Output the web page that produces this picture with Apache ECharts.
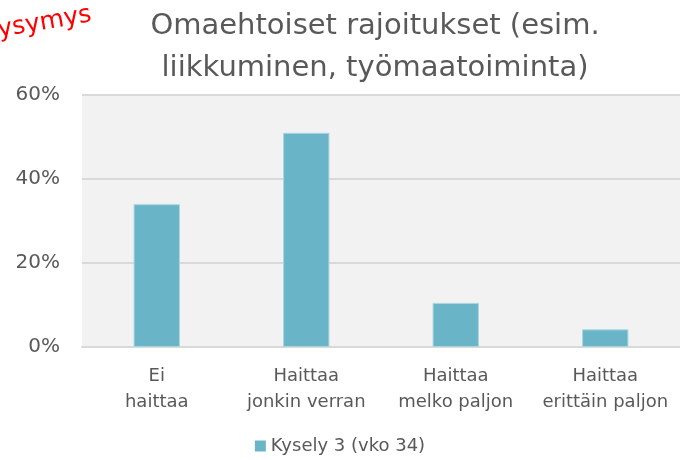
<!DOCTYPE html>
<html>
<head>
<meta charset="utf-8">
<script src="https://cdn.jsdelivr.net/npm/echarts@6/dist/echarts.min.js"></script>
<style>
  html, body { margin: 0; padding: 0; background: #fff; }
  #chart { width: 680px; height: 460px; }
</style>
</head>
<body>
<div id="chart"></div>
<script>
const categories = ['Ei\nhaittaa', 'Haittaa\njonkin verran', 'Haittaa\nmelko paljon', 'Haittaa\nerittäin paljon']
const seriesName = 'Kysely 3 (vko 34)'
const values = [34, 51, 10.5, 4.2]
const yTicks = [0, 20, 40, 60]

const font = '"DejaVu Sans", sans-serif'
const chart = echarts.init(document.getElementById('chart'))

chart.setOption({
  animation: false,
  title: {
    text: 'Omaehtoiset rajoitukset (esim.\nliikkuminen, työmaatoiminta)',
    left: 370,
    textAlign: 'center',
    top: 0,
    textStyle: {
      color: '#595959',
      fontFamily: font,
      fontSize: 29,
      fontWeight: 'normal',
      lineHeight: 42
    }
  },
  graphic: [
    {
      type: 'text',
      x: 0,
      y: 43,
      rotation: 0.17,
      style: {
        text: 'ysymys',
        fill: '#ff0000',
        font: '25px ' + font,
        textVerticalAlign: 'bottom'
      }
    }
  ],
  legend: {
    bottom: 0,
    left: 'center',
    itemWidth: 11,
    itemHeight: 11,
    itemGap: 6,
    itemStyle: { borderWidth: 0 },
    textStyle: { color: '#595959', fontFamily: font, fontSize: 18 },
    data: [{ name: seriesName, icon: 'rect' }]
  },
  grid: {
    left: 82,
    right: -4,
    top: 95,
    bottom: 113,
    show: true,
    backgroundColor: '#f2f2f2',
    borderWidth: 0
  },
  xAxis: {
    type: 'category',
    data: categories,
    axisLine: { lineStyle: { color: '#d9d9d9', width: 2 } },
    axisTick: { show: false },
    axisLabel: {
      interval: 0,
      color: '#595959',
      fontFamily: font,
      fontSize: 18,
      lineHeight: 26,
      margin: 16
    }
  },
  yAxis: {
    type: 'value',
    min: yTicks[0],
    max: yTicks[yTicks.length - 1],
    interval: 20,
    axisLine: { show: false },
    axisTick: { show: false },
    splitLine: { lineStyle: { color: '#d9d9d9', width: 2 } },
    axisLabel: {
      color: '#595959',
      fontFamily: font,
      fontSize: 20,
      margin: 22,
      formatter: v => v + '%'
    }
  },
  series: [
    {
      name: seriesName,
      type: 'bar',
      data: values,
      barWidth: '31%',
      itemStyle: { color: '#6ab4c8', borderColor: '#a9d6e2', borderWidth: 1 }
    }
  ]
})
</script>
</body>
</html>
